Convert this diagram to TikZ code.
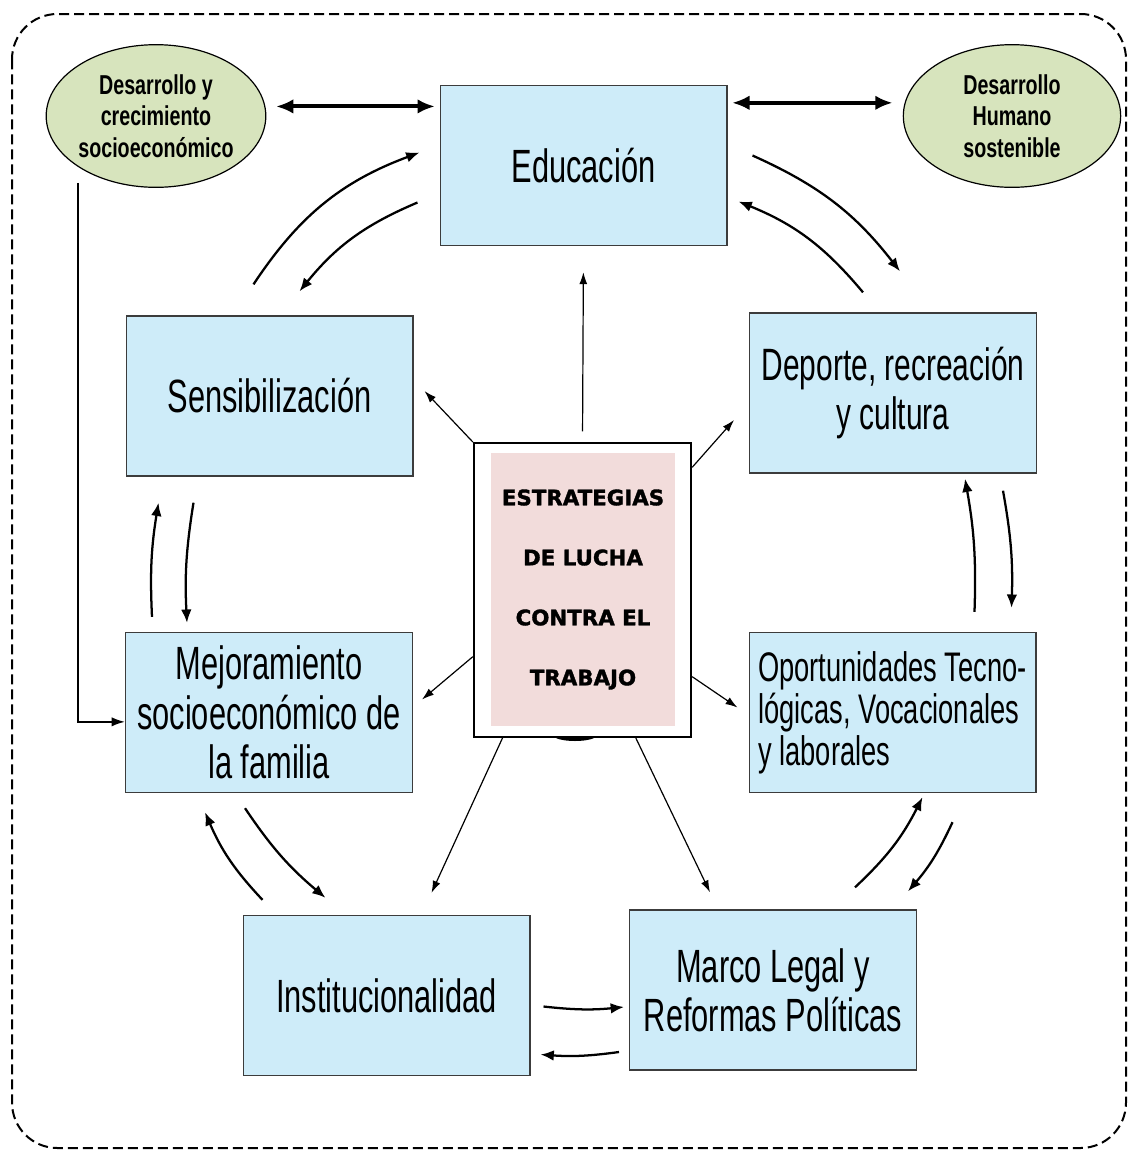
\documentclass[tikz,border=0pt]{standalone}
\usepackage{fontspec}
\setmainfont{Liberation Sans}
\newfontfamily\narrowfont[FakeStretch=0.66]{Liberation Sans}
\newfontfamily\goalfont[FakeStretch=0.72]{Liberation Sans}
\newfontfamily\heavyfont[FakeBold=1.6]{DejaVu Sans}
\usetikzlibrary{shapes.geometric,arrows.meta,calc}

\definecolor{boxblue}{RGB}{206,236,249}
\definecolor{boxline}{RGB}{60,60,60}
\definecolor{ellgreen}{RGB}{215,228,189}
\definecolor{luchapink}{RGB}{242,220,219}

\tikzset{every picture/.style={line width=0.75pt}}

\begin{document}
\begin{tikzpicture}[x=0.75pt,y=0.75pt,yscale=-1,xscale=1,
  box/.style={draw=boxline,fill=boxblue,line width=1pt,minimum width=215pt,minimum height=120pt,inner sep=2pt,align=center,font=\narrowfont\fontsize{35}{37}\selectfont},
  goal/.style={ellipse,draw=black,fill=ellgreen,line width=0.9pt,minimum width=163pt,minimum height=107pt,inner sep=0pt,align=center,font=\goalfont\bfseries\fontsize{20.5}{23.6}\selectfont},
  dblarrow/.style={{Latex[length=13pt,width=11pt]}-{Latex[length=13pt,width=11pt]},line width=3pt},
  carrow/.style={-{Latex[length=10pt,width=8pt]},line width=1.7pt},
  tarrow/.style={-{Latex[length=9pt,width=6pt]},line width=0.9pt}]
\useasboundingbox (0,0) rectangle (1130,1158);

%Shape: Rounded Frame
\draw [dashed,dash pattern=on 7.5pt off 3.75pt,line width=1.5pt,rounded corners=34pt] (12,14) rectangle (1126,1148);

%Shape: Ellipse
\node [goal] (ellL) at (156,116) {Desarrollo y\\crecimiento\\socioecon\'omico};
\node [goal] (ellR) at (1012,116) {Desarrollo\\Humano\\sostenible};

%Shape: Rectangle
\node [box] (edu) at (583.5,165.5) {Educaci\'on};
\node [box] (sens) at (269.5,396) {Sensibilizaci\'on};
\node [box,font=\narrowfont\fontsize{34}{37}\selectfont] (dep) at (893,393) {Deporte, recreaci\'on\\y cultura};
\node [box] (mej) at (269,712.5) {Mejoramiento\\socioecon\'omico de\\la familia};
\node [box,align=left,font=\narrowfont\fontsize{31}{31.5}\selectfont] (opo) at (892.5,712.5) {Oportunidades Tecno-\\l\'ogicas, Vocacionales\\y laborales};
\node [box] (inst) at (386.5,995.5) {Institucionalidad};
\node [box] (marco) at (773,990) {Marco Legal y\\Reformas Pol\'iticas};

%Shape: Center
\fill (575,735) ellipse [x radius=22,y radius=6];
\node [draw=black,fill=white,line width=1.5pt,minimum width=163pt,minimum height=220.5pt] (cen) at (582.5,590) {};
\node [fill=luchapink,minimum width=138pt,minimum height=205pt,align=center,font=\heavyfont\bfseries\fontsize{16}{45}\selectfont] (lucha) at (583,589.5) {ESTRATEGIAS\\DE LUCHA\\CONTRA EL\\TRABAJO};

%Double Arrows
\draw [dblarrow,shorten <=8pt,shorten >=3.5pt] (ellL.5) -- (ellL.5 -| edu.west);
\draw [dblarrow,shorten <=3.5pt,shorten >=9pt] (ellR.173 -| edu.east) -- (ellR.173);

%Straight Lines
\draw [-{Latex[length=10pt,width=7pt]},line width=1.4pt,shorten <=12pt] (ellL.south west) |- ([yshift=7pt]mej.west);

%Straight Lines
\draw [tarrow,shorten <=8pt,shorten >=19.5pt] (cen.north) -- (edu.south);
\draw [tarrow] (cen.north west) -- ($(sens.east)+(11,-5)$);
\draw [tarrow] ([yshift=19pt]cen.north east) -- ($(dep.west)+(-15,27)$);
\draw [tarrow] ([yshift=50pt]cen.west) -- ($(mej.east)+(9,-13)$);
\draw [tarrow] ([yshift=65pt]cen.east) -- ($(opo.west)+(-11,-5)$);
\draw [tarrow] ([xshift=-60pt]cen.south) -- ($(inst.north)+(45,-22)$);
\draw [tarrow] ([xshift=40pt]cen.south) -- ($(marco.north)+(-63,-17)$);

%Curve Lines
\draw [carrow] ($(sens.north)+(-16,-31)$) to [bend right=18] ($(edu.west)+(-20,-13)$);
\draw [carrow] ($(edu.west)+(-22,37)$) to [bend left=14] ($(sens.north)+(30,-24)$);
\draw [carrow] ($(edu.east)+(25,-10)$) to [bend right=14] ($(dep.north)+(7,-41)$);
\draw [carrow] ($(dep.north)+(-30,-20)$) to [bend left=14] ($(edu.east)+(11,36)$);
\draw [carrow] ($(mej.north)+(-117,-15)$) to [bend right=6] ($(sens.south)+(-111,26)$);
\draw [carrow] ($(sens.south)+(-76,26)$) to [bend left=6] ($(mej.north)+(-82,-9)$);
\draw [carrow] ($(opo.north)+(82,-20)$) to [bend left=6] ($(dep.south)+(72,5)$);
\draw [carrow] ($(dep.south)+(110,17)$) to [bend right=6] ($(opo.north)+(119,-24)$);
\draw [carrow] ($(inst.north)+(-124,-15)$) to [bend right=10] ($(mej.south)+(-64,19)$);
\draw [carrow] ($(mej.south)+(-24,15)$) to [bend left=8] ($(inst.north)+(-61,-17)$);
\draw [carrow] ($(marco.north)+(82,-22)$) to [bend left=10] ($(opo.south)+(30,4)$);
\draw [carrow] ($(opo.south)+(60,29)$) to [bend right=8] ($(marco.north)+(135,-18)$);
\draw [carrow] ($(inst.east)+(13,11)$) to [bend left=6] ($(marco.west)+(-5,17)$);
\draw [carrow] ($(marco.west)+(-10,62)$) to [bend right=6] ($(inst.east)+(10,59)$);

\end{tikzpicture}
\end{document}
